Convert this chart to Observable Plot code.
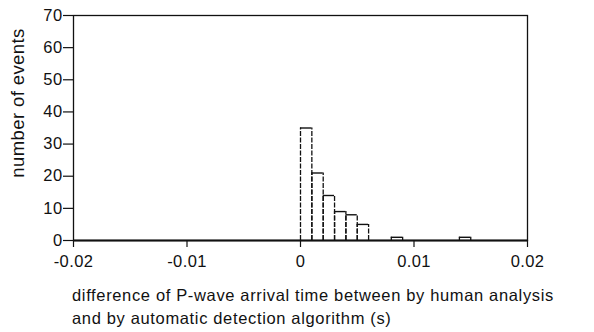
<!DOCTYPE html>
<html><head><meta charset="utf-8">
<script src="https://cdn.jsdelivr.net/npm/d3@7"></script>
<script src="https://cdn.jsdelivr.net/npm/@observablehq/plot@0.6"></script>
<style>
body{margin:0;background:#fff;font-family:"Liberation Sans",Arial,sans-serif}
#xlabel{margin:12px 0 0 72px;font-size:16.5px;letter-spacing:0.65px;line-height:22.5px;color:#111;white-space:nowrap}
</style>
</head><body><div id="chart"></div>
<script>
// histogram bins (s) and counts
const binStart = [0, 0.001, 0.002, 0.003, 0.004, 0.005, 0.008, 0.014];
const binEnd   = [0.001, 0.002, 0.003, 0.004, 0.005, 0.006, 0.009, 0.015];
const counts   = [35, 21, 14, 9, 8, 5, 1, 1];
const xTicks = [-0.02, -0.01, 0, 0.01, 0.02];
const yTicks = [0, 10, 20, 30, 40, 50, 60, 70];
const yLabel = "number of events";
const xLabelLines = ["difference of P-wave arrival time between by human analysis", "and by automatic detection algorithm (s)"];

const bins = binStart.map((s, i) => ({x1: s, x2: binEnd[i], n: counts[i]}));

const chart = Plot.plot({
  width: 594,
  height: 272,
  marginLeft: 73,
  marginRight: 67,
  marginTop: 15,
  marginBottom: 32,
  style: {fontFamily: '"Liberation Sans", Arial, sans-serif', color: "#111", background: "#fff", letterSpacing: "0.4px"},
  x: {domain: [-0.02, 0.02]},
  y: {domain: [0, 70]},
  marks: [
    Plot.ruleY([0], {stroke: "#888", strokeWidth: 3}),
    // bar tops (solid) and bar sides (broken, as in the scanned figure)
    Plot.ruleY(bins, {x1: "x1", x2: "x2", y: "n", stroke: "#111", strokeWidth: 1.4}),
    Plot.ruleX(bins, {x: "x1", y1: 0, y2: "n", stroke: "#111", strokeWidth: 1.3, strokeDasharray: "5,1.5"}),
    Plot.ruleX(bins, {x: "x2", y1: 0, y2: "n", stroke: "#111", strokeWidth: 1.3, strokeDasharray: "5,1.5"}),
    Plot.ruleY([0], {stroke: "#222", strokeWidth: 1}),
    Plot.frame({stroke: "#111", strokeWidth: 1.3}),
    Plot.axisY({ticks: yTicks, tickSize: 10, tickPadding: 1, label: null, fontSize: 16.5, stroke: "#111", strokeWidth: 1.2}),
    Plot.axisX({ticks: xTicks, tickSize: 7, tickPadding: 8, label: null, fontSize: 16.5, tickFormat: d => String(d), stroke: "#111", strokeWidth: 1.2}),
    Plot.text([yLabel], {frameAnchor: "left", textAnchor: "middle", dx: -55, dy: -25, rotate: -90, fontSize: 18.5, fill: "#111"})
  ]
});
document.getElementById("chart").appendChild(chart);
const lab = document.createElement("div");
lab.id = "xlabel";
lab.innerHTML = xLabelLines.join("<br>");
document.getElementById("chart").appendChild(lab);
</script>
</body></html>
